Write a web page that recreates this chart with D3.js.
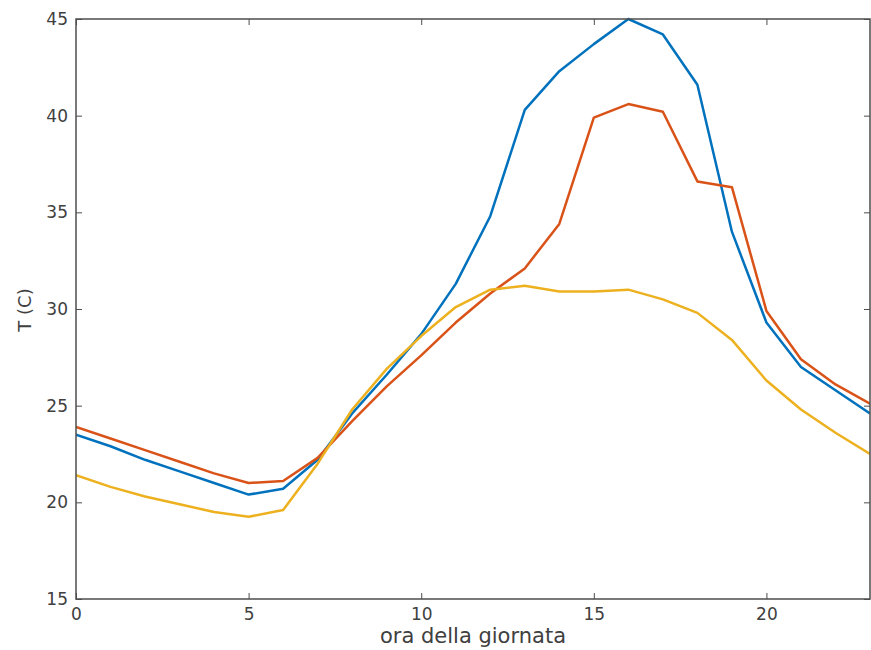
<!DOCTYPE html>
<html><head><meta charset="utf-8">
<script src="https://cdn.jsdelivr.net/npm/d3@7"></script>
<style>body{margin:0;background:#fff}svg{display:block}</style>
</head><body>
<svg id="c" width="871" height="650"></svg>
<script>
const hours = d3.range(0, 24);
const seriesBlue   = [23.5,22.9,22.2,21.6,21.0,20.4,20.7,22.2,24.6,26.6,28.7,31.3,34.8,40.3,42.3,43.7,45.0,44.2,41.6,34.0,29.3,27.0,25.8,24.6];
const seriesRed    = [23.9,23.3,22.7,22.1,21.5,21.0,21.1,22.3,24.2,26.0,27.6,29.3,30.8,32.1,34.4,39.9,40.6,40.2,36.6,36.3,29.9,27.4,26.1,25.1];
const seriesYellow = [21.4,20.8,20.3,19.9,19.5,19.25,19.6,22.0,24.8,26.9,28.6,30.1,31.0,31.2,30.9,30.9,31.0,30.5,29.8,28.4,26.3,24.8,23.6,22.5];
const xTicks = [0,5,10,15,20];
const yTicks = [15,20,25,30,35,40,45];
const colors = ["#0072BD","#D95319","#EDB120"];
const xLabel = "ora della giornata";
const yLabel = "T (C)";

const L=76, R=870, T=19, B=599;
const FONT = "DejaVu Sans, Verdana, sans-serif";
const svg = d3.select("#c");
const x = d3.scaleLinear().domain([0,23]).range([L,R]);
const y = d3.scaleLinear().domain([15,45]).range([B,T]);
const axisCol = "#4d4d4d";
const textCol = "#404040";

const line = d3.line().x((d,i)=>x(hours[i])).y(d=>y(d));
svg.append("defs").append("clipPath").attr("id","clip").append("rect")
  .attr("x",L).attr("y",T-2).attr("width",R-L).attr("height",B-T+2);
const g = svg.append("g").attr("clip-path","url(#clip)");
[seriesBlue, seriesRed, seriesYellow].forEach((s,k)=>{
  g.append("path").datum(s).attr("d",line).attr("fill","none")
   .attr("stroke",colors[k]).attr("stroke-width",2.5).attr("stroke-linejoin","round");
});

function styleAxis(sel){
  sel.select(".domain").remove();
  sel.selectAll(".tick line").attr("stroke",axisCol);
  sel.selectAll(".tick text").attr("fill",textCol).attr("font-family",FONT).attr("font-size",17);
}
svg.append("g").attr("transform",`translate(0,${B})`)
  .call(d3.axisBottom(x).tickValues(xTicks).tickSize(-6).tickPadding(9).tickFormat(d3.format("d")))
  .call(styleAxis);
svg.append("g").attr("transform",`translate(${L},0)`)
  .call(d3.axisLeft(y).tickValues(yTicks).tickSize(-6).tickPadding(8).tickFormat(d3.format("d")))
  .call(styleAxis);
svg.append("g").attr("transform",`translate(0,${T})`)
  .call(d3.axisTop(x).tickValues(xTicks).tickSize(-6).tickFormat(""))
  .call(styleAxis);
svg.append("g").attr("transform",`translate(${R},0)`)
  .call(d3.axisRight(y).tickValues(yTicks).tickSize(-6).tickFormat(""))
  .call(styleAxis);

svg.append("rect").attr("x",L).attr("y",T).attr("width",R-L).attr("height",B-T)
  .attr("fill","none").attr("stroke",axisCol).attr("stroke-width",1.5);

svg.append("text").attr("x",473).attr("y",643).attr("text-anchor","middle")
  .attr("font-family",FONT).attr("font-size",21).attr("fill",textCol).text(xLabel);
svg.append("text").attr("transform",`translate(31,${310}) rotate(-90)`).attr("text-anchor","middle")
  .attr("font-family",FONT).attr("font-size",18).attr("fill",textCol).text(yLabel);
</script>
</body></html>
